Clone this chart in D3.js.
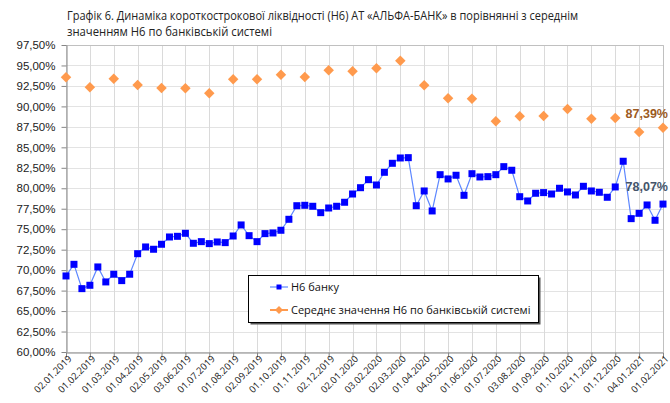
<!DOCTYPE html>
<html>
<head>
<meta charset="utf-8">
<script src="https://cdn.jsdelivr.net/npm/d3@7"></script>
<style>
  body { margin: 0; background: #fff; }
  svg { display: block; font-family: "Liberation Sans", Arial, sans-serif; }
</style>
</head>
<body>
<svg id="chart" width="670" height="403"></svg>
<script>
// - - - - - - - - - -
// data
// - - - - - - - - - -
const titleLines = [
    'Графік 6. Динаміка короткострокової  ліквідності (Н6) АТ «АЛЬФА-БАНК» в порівнянні з середнім',
    'значенням Н6 по банківській системі'
];

const dateLabels = ['02.01.2019', '01.02.2019', '01.03.2019', '01.04.2019', '02.05.2019', '03.06.2019',
    '01.07.2019', '01.08.2019', '02.09.2019', '01.10.2019', '01.11.2019', '02.12.2019',
    '02.01.2020', '03.02.2020', '02.03.2020', '01.04.2020', '04.05.2020', '01.06.2020',
    '01.07.2020', '03.08.2020', '01.09.2020', '01.10.2020', '02.11.2020', '01.12.2020',
    '04.01.2021', '01.02.2021'];

// Середнє значення Н6 по банківській системі (monthly)
const systemAvg = [93.56, 92.33, 93.39, 92.62, 92.25, 92.21, 91.60, 93.31, 93.31, 93.87,
    93.59, 94.41, 94.29, 94.65, 95.58, 92.58, 91.00, 90.94, 88.18, 88.79,
    88.83, 89.68, 88.50, 88.59, 86.88, 87.39];

// Н6 банку (three readings per month)
const bankN6 = [69.29, 70.71, 67.74, 68.15, 70.39, 68.56, 69.50, 68.72, 69.50, 72.01,
    72.83, 72.55, 73.16, 74.05, 74.13, 74.50, 73.28, 73.48, 73.24, 73.44,
    73.36, 74.17, 75.52, 74.21, 73.48, 74.46, 74.54, 74.87, 76.21, 77.87,
    77.92, 77.80, 77.02, 77.59, 77.80, 78.29, 79.30, 80.07, 81.05, 80.40,
    81.95, 83.05, 83.70, 83.74, 77.87, 79.67, 77.23, 81.66, 81.14, 81.59,
    79.14, 81.78, 81.38, 81.42, 81.66, 82.64, 82.20, 78.97, 78.45, 79.39,
    79.47, 79.30, 80.00, 79.55, 79.18, 80.24, 79.67, 79.51, 78.90, 80.16,
    83.30, 76.29, 76.94, 77.96, 76.09, 78.07];

const yTicks = d3.range(60, 97.51, 2.5);

const seriesNames = ['Н6 банку', 'Середнє значення Н6 по банківській системі'];

// - - - - - - - - - -
const svg = d3.select('#chart');
const plotLeft = 66, plotRight = 663, plotTop = 45, plotBottom = 352;
const perMonth = 3;

const x = d3.scaleLinear().domain([0, bankN6.length - 1]).range([plotLeft, plotRight]);
const y = d3.scaleLinear().domain([60, 97.5]).range([plotBottom, plotTop]);

const fmt = v => d3.format('.2f')(v).replace('.', ',') + '%';

// title
svg.append('g').selectAll('text')
    .data(titleLines)
    .join('text')
    .attr('x', 67)
    .attr('y', (d, i) => 20 + i * 16)
    .attr('font-size', 12)
    .attr('fill', '#222')
    .style('font-family', '"Open Sans", "Noto Sans", sans-serif')
    .text(d => d)
    .each(function (d, i) {
        // the original is set in a narrow face, squeeze to its width
        const want = i === 0 ? 511 : 205;
        if (this.getComputedTextLength() > want) {
            d3.select(this).attr('textLength', want).attr('lengthAdjust', 'spacingAndGlyphs');
        }
    });

// grid
const monthTicks = d3.range(0, bankN6.length, perMonth);
svg.append('g')
    .selectAll('line')
    .data(yTicks)
    .join('line')
    .attr('x1', plotLeft).attr('x2', plotRight)
    .attr('y1', d => Math.round(y(d)) + 0.5).attr('y2', d => Math.round(y(d)) + 0.5)
    .attr('stroke', '#e3e3e3');
svg.append('g')
    .selectAll('line')
    .data(monthTicks)
    .join('line')
    .attr('x1', d => Math.round(x(d)) + 0.5).attr('x2', d => Math.round(x(d)) + 0.5)
    .attr('y1', plotTop).attr('y2', plotBottom)
    .attr('stroke', '#dadada');

// frame top / right
svg.append('path')
    .attr('d', `M${plotLeft},${plotTop + 0.5}H${plotRight + 0.5}V${plotBottom}`)
    .attr('fill', 'none')
    .attr('stroke', '#c0c0c0');

// axes
const yAxis = svg.append('g')
    .attr('transform', `translate(${plotLeft + 0.5},0)`)
    .call(d3.axisLeft(y).tickValues(yTicks).tickFormat(fmt).tickSize(5).tickSizeOuter(0));
yAxis.select('.domain').attr('stroke', '#868686');
yAxis.selectAll('.tick line').attr('stroke', '#868686');
yAxis.selectAll('.tick text')
    .attr('font-size', 11.5)
    .attr('fill', '#222')
    .attr('x', -11)
    .style('font-family', '"Liberation Sans", Arial, sans-serif');

const xAxis = svg.append('g')
    .attr('transform', `translate(0,${plotBottom + 0.5})`)
    .call(d3.axisBottom(x).tickValues(monthTicks)
        .tickFormat(d => dateLabels[d / perMonth]).tickSize(5).tickSizeOuter(0));
xAxis.select('.domain').attr('stroke', '#868686');
xAxis.selectAll('.tick line').attr('stroke', '#868686');
xAxis.selectAll('.tick text')
    .attr('font-size', 9.5)
    .attr('fill', '#222')
    .attr('text-anchor', 'end')
    .attr('dy', 0)
    .attr('transform', 'translate(3,4) rotate(-45)')
    .attr('x', 0).attr('y', 4)
    .style('font-family', '"Open Sans", "Noto Sans", sans-serif');

// bank series line + square markers
const blueLine = '#5d87ff', blueMark = '#0000ff', orange = '#ff9a4d';

svg.append('path')
    .datum(bankN6)
    .attr('fill', 'none')
    .attr('stroke', blueLine)
    .attr('stroke-width', 1.2)
    .attr('d', d3.line().x((d, i) => x(i)).y(d => y(d)));

svg.append('g')
    .selectAll('rect')
    .data(bankN6)
    .join('rect')
    .attr('x', (d, i) => x(i) - 3.5)
    .attr('y', d => y(d) - 3.5)
    .attr('width', 7).attr('height', 7)
    .attr('fill', blueMark);

// system average diamonds
const diamond = d3.symbol().type(d3.symbolDiamond2).size(70);
svg.append('g')
    .selectAll('path')
    .data(systemAvg)
    .join('path')
    .attr('transform', (d, i) => `translate(${x(i * perMonth)},${y(d)})`)
    .attr('d', diamond)
    .attr('fill', orange);

// end labels (pulled in a little so they are not clipped by the page edge)
svg.append('text')
    .attr('x', 668).attr('y', y(systemAvg[systemAvg.length - 1]) - 10)
    .attr('text-anchor', 'end')
    .attr('font-size', 12.5).attr('font-weight', 'bold')
    .attr('fill', '#9c5a22')
    .text(fmt(systemAvg[systemAvg.length - 1]));
svg.append('text')
    .attr('x', 668).attr('y', y(bankN6[bankN6.length - 1]) - 13)
    .attr('text-anchor', 'end')
    .attr('font-size', 12.5).attr('font-weight', 'bold')
    .attr('fill', '#44546a')
    .text(fmt(bankN6[bankN6.length - 1]));

// legend
const lg = svg.append('g').attr('transform', 'translate(248,275)');
lg.append('rect')
    .attr('x', 2.5).attr('y', 2.5).attr('width', 290).attr('height', 47)
    .attr('fill', '#555');
lg.append('rect')
    .attr('x', 0.5).attr('y', 0.5).attr('width', 290).attr('height', 47)
    .attr('fill', '#fff').attr('stroke', '#000');

const items = lg.selectAll('g.item')
    .data(seriesNames)
    .join('g')
    .attr('class', 'item')
    .attr('transform', (d, i) => `translate(22,${12 + i * 23})`);
items.append('line')
    .attr('x1', 0).attr('x2', 18)
    .attr('stroke', (d, i) => i === 0 ? blueLine : orange)
    .attr('stroke-width', (d, i) => i === 0 ? 1.2 : 2);
items.append('path')
    .attr('transform', 'translate(9,0)')
    .attr('d', (d, i) => i === 0
        ? d3.symbol().type(d3.symbolSquare).size(25)()
        : d3.symbol().type(d3.symbolDiamond2).size(40)())
    .attr('fill', (d, i) => i === 0 ? blueMark : orange);
items.append('text')
    .attr('x', 21).attr('dy', '0.35em')
    .attr('font-size', 11)
    .attr('fill', '#111')
    .style('font-family', '"Open Sans", "Noto Sans", sans-serif')
    .text(d => d);
</script>
</body>
</html>
